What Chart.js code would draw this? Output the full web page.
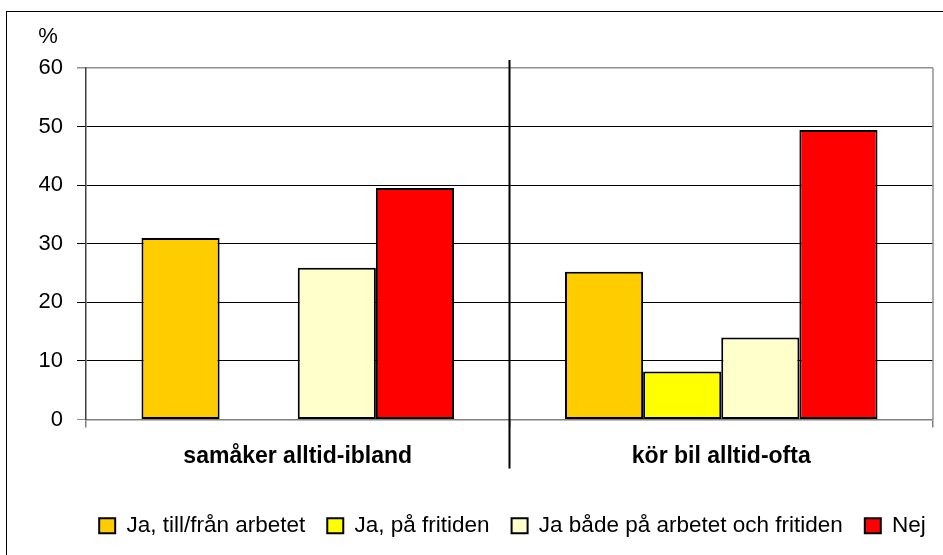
<!DOCTYPE html>
<html>
<head>
<meta charset="utf-8">
<script src="https://cdn.jsdelivr.net/npm/chart.js@4/dist/chart.umd.min.js"></script>
<style>
  html, body { margin: 0; padding: 0; background: #fff; }
  #wrap { position: relative; width: 943px; height: 555px; overflow: hidden; }
  #frame { position: absolute; left: 6px; top: 11px; width: 960px; height: 600px;
           border-left: 1px solid #000; border-top: 1px solid #000; }
  canvas { position: absolute; left: 0; top: 0; }
</style>
</head>
<body>
<div id="wrap">
  <div id="frame"></div>
  <canvas id="chart" width="943" height="555"></canvas>
</div>
<script>
// data
var categories = ['samåker alltid-ibland', 'kör bil alltid-ofta'];
var seriesNames = ['Ja, till/från arbetet', 'Ja, på fritiden', 'Ja både på arbetet och fritiden', 'Nej'];
var arbetet = [31, 25.2];
var fritiden = [null, 8.2];
var bada = [25.9, 14];
var nej = [39.5, 49.4];
var yTicks = [0, 10, 20, 30, 40, 50, 60];
var colours = ['#ffcc00', '#ffff00', '#ffffcc', '#ff0000'];

var font = "'Liberation Sans', Arial, sans-serif";

// vertical line between the categories + '%' label + right edge of plot
var extras = {
  id: 'extras',
  afterLayout: function (chart) {
    // the original frame is cut on the right, so its legend sits right of centre
    chart.legend.left += 46;
    chart.legend.right += 46;
  },
  afterDraw: function (chart) {
    var ctx = chart.ctx;
    var area = chart.chartArea;
    var x = chart.scales.x;
    ctx.save();
    // plot right edge
    ctx.strokeStyle = '#909090';
    ctx.lineWidth = 1.5;
    ctx.beginPath();
    ctx.moveTo(area.right, area.top);
    ctx.lineTo(area.right, area.bottom);
    ctx.stroke();
    // category divider
    var mid = (x.getPixelForTick(0) + x.getPixelForTick(1)) / 2;
    ctx.strokeStyle = '#000';
    ctx.lineWidth = 2;
    ctx.beginPath();
    ctx.moveTo(mid, area.top - 8);
    ctx.lineTo(mid, area.bottom + 49);
    ctx.stroke();
    // unit
    ctx.fillStyle = '#000';
    ctx.font = '22px ' + font;
    ctx.textAlign = 'center';
    ctx.textBaseline = 'middle';
    ctx.fillText('%', area.left - 38, area.top - 31);
    ctx.restore();
  }
};

var series = [arbetet, fritiden, bada, nej];
var datasets = [];
for (var i = 0; i < series.length; i++) {
  datasets.push({
    label: seriesNames[i],
    data: series[i],
    backgroundColor: colours[i],
    borderColor: '#000',
    borderWidth: 2,
    borderSkipped: false
  });
}

var ctx = document.getElementById('chart').getContext('2d');
var chart = new Chart(ctx, {
  type: 'bar',
  data: { labels: categories, datasets: datasets },
  plugins: [extras],
  options: {
    responsive: false,
    animation: false,
    devicePixelRatio: 1,
    categoryPercentage: 0.738,
    barPercentage: 1.0,
    layout: { padding: { top: 68, right: 10, bottom: 8, left: 0 } },
    plugins: {
      tooltip: { enabled: false },
      legend: {
        position: 'bottom',
        labels: {
          color: '#000',
          boxWidth: 16,
          boxHeight: 15,
          padding: 22,
          font: { family: font, size: 22.5 }
        }
      }
    },
    scales: {
      x: {
        afterFit: function (scale) { scale.height = 73; },
        grid: {
          display: true,
          drawOnChartArea: false,
          drawTicks: true,
          tickLength: 8,
          color: '#808080',
          lineWidth: 1.5
        },
        border: { display: true, color: '#808080', width: 1.5 },
        ticks: {
          color: '#000',
          padding: 15,
          font: { family: font, size: 23, weight: 'bold' }
        }
      },
      y: {
        min: yTicks[0],
        max: yTicks[yTicks.length - 1],
        afterFit: function (scale) { scale.width = 86; },
        afterBuildTicks: function (scale) {
          scale.ticks = yTicks.map(function (v) { return { value: v }; });
        },
        grid: {
          tickLength: 9,
          color: function (c) {
            if (c.tick && (c.tick.value === 60 || c.tick.value === 0)) return '#909090';
            return '#000';
          },
          lineWidth: function (c) {
            return (c.tick && c.tick.value === 60) ? 1.5 : 1;
          }
        },
        border: { display: true, color: '#404040', width: 1.5 },
        ticks: {
          color: '#000',
          padding: 14,
          font: { family: font, size: 22 }
        }
      }
    }
  }
});
</script>
</body>
</html>
